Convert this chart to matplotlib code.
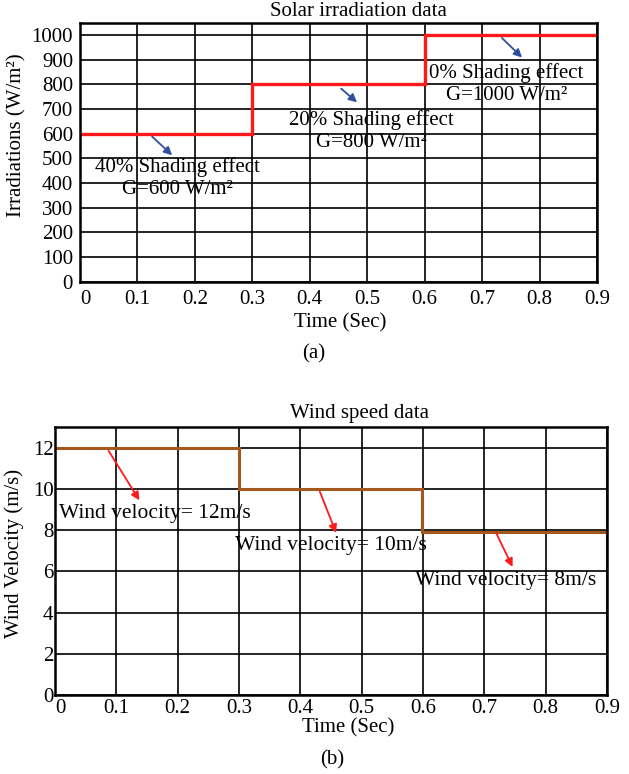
import numpy as np
from matplotlib import pyplot as plt

# solar irradiation steps
solar_edges = [0.0, 0.3, 0.6, 0.9]
solar_values = [600, 800, 1000]

# wind speed steps
wind_edges = [0.0, 0.3, 0.598, 0.9]
wind_values = [12, 10, 7.9]

xtick_labels = ["0", "0.1", "0.2", "0.3", "0.4", "0.5", "0.6", "0.7", "0.8", "0.9"]

solar_notes = ["40% Shading effect\nG=600 W/m²",
               "20% Shading effect\nG=800 W/m²",
               "0% Shading effect\nG=1000 W/m²"]
solar_note_xy = [(0.17, 420), (0.508, 610), (0.742, 800)]
solar_arrow_from = [(0.122, 596), (0.451, 790), (0.731, 996)]
solar_arrow_to = [(0.164, 505), (0.486, 720), (0.773, 901)]

wind_notes = ["Wind velocity= 12m/s", "Wind velocity= 10m/s", "Wind velocity= 8m/s"]
wind_note_xy = [(0.163, 8.81), (0.450, 7.26), (0.734, 5.57)]
wind_arrow_from = [(0.085, 11.96), (0.430, 10.0), (0.717, 8.0)]
wind_arrow_to = [(0.140, 9.33), (0.460, 7.74), (0.748, 6.09)]

plt.rcParams['font.family'] = ['Liberation Serif', 'DejaVu Serif']
plt.rcParams['font.size'] = 15

W, H = 629, 774
fig = plt.figure(figsize=(6.29, 7.74), dpi=100)

def px(x, y):
    # pixel position (from top-left) to figure fraction
    return x / W, 1 - y / H

def style_axes(ax, ymax, yticks, xpad, ypad):
    ax.set_xlim(0, 0.9)
    ax.set_ylim(0, ymax)
    ax.set_xticks(np.round(np.arange(0, 0.91, 0.1), 1))
    ax.set_xticklabels(xtick_labels)
    ax.get_xticklabels()[0].set_horizontalalignment("left")
    ax.set_yticks(yticks)
    ax.grid(True, color="black", linewidth=1.2)
    ax.tick_params(length=0, labelsize=15)
    ax.tick_params(axis="x", pad=xpad)
    ax.tick_params(axis="y", pad=ypad)
    for s in ax.spines.values():
        s.set_linewidth(1.8)
    ax.set_axisbelow(True)

# (a) solar
ax1 = fig.add_axes([80/W, 1 - 281.7/H, 517/W, 259/H])
style_axes(ax1, 1050, np.arange(0, 1001, 100), 6, 5)
ax1.stairs(solar_values, solar_edges, color="#ff1a1a", linewidth=2.4, baseline=None)
for txt, xy in zip(solar_notes, solar_note_xy):
    ax1.text(xy[0], xy[1], txt, ha="center", va="center", fontsize=15, linespacing=1.2)
for a, b in zip(solar_arrow_from, solar_arrow_to):
    ax1.annotate("", xy=b, xytext=a,
                 arrowprops=dict(arrowstyle="-|>", color="#2f4f9a", lw=1.3, mutation_scale=12))
fig.text(*px(358, 11), "Solar irradiation data", ha="center", va="center")
fig.text(*px(340, 323), "Time (Sec)", ha="center", va="center")
fig.text(*px(17, 135), "Irradiations (W/m²)", ha="center", va="center", rotation=90)
fig.text(*px(314, 354), "(a)", ha="center", va="center")

# (b) wind
ax2 = fig.add_axes([55/W, 1 - 695/H, 552/W, 268/H])
style_axes(ax2, 13, np.arange(0, 13, 2), 3, 1)
ax2.stairs(wind_values, wind_edges, color="#a5581c", linewidth=2.2, baseline=None)
for txt, xy in zip(wind_notes, wind_note_xy):
    ax2.text(xy[0], xy[1], txt, ha="center", va="center", fontsize=15.5)
for a, b in zip(wind_arrow_from, wind_arrow_to):
    ax2.annotate("", xy=b, xytext=a,
                 arrowprops=dict(arrowstyle="-|>", color="#ff1a1a", lw=1.3, mutation_scale=12))
fig.text(*px(360, 414), "Wind speed data", ha="center", va="center")
fig.text(*px(348, 728), "Time (Sec)", ha="center", va="center")
fig.text(*px(14, 553), "Wind Velocity (m/s)", ha="center", va="center", rotation=90)
fig.text(*px(332, 760), "(b)", ha="center", va="center")

fig.savefig("out.png", dpi=100)
